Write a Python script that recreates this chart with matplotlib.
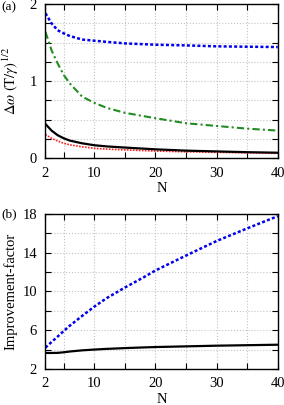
import numpy as np
import matplotlib
matplotlib.use('Agg')
import matplotlib.pyplot as plt
from matplotlib.ticker import MultipleLocator, FixedLocator

plt.rcParams['font.family'] = ['Liberation Serif', 'DejaVu Serif']
plt.rcParams['mathtext.fontset'] = 'stix'
plt.rcParams['font.size'] = 10.5

# panel (a)
N_a = [2, 3, 4, 5, 6, 8, 10, 12, 15, 20, 25, 30, 35, 40]
blue_a = [1.88, 1.75, 1.66, 1.62, 1.585, 1.54, 1.525, 1.51, 1.49, 1.473, 1.464, 1.452, 1.447, 1.443]
green_a = [1.64, 1.40, 1.23, 1.08, 0.97, 0.80, 0.72, 0.655, 0.59, 0.52, 0.455, 0.42, 0.385, 0.36]
black_a = [0.445, 0.36, 0.30, 0.26, 0.23, 0.195, 0.17, 0.155, 0.14, 0.117, 0.10, 0.09, 0.08, 0.073]
red_a = [0.31, 0.26, 0.225, 0.195, 0.175, 0.15, 0.13, 0.12, 0.11, 0.095, 0.085, 0.078, 0.071, 0.065]

# panel (b)
N_b = [2, 3, 4, 5, 6, 8, 10, 12, 15, 18, 20, 25, 30, 35, 40]
blue_b = [4.2, 4.78, 5.34, 5.92, 6.47, 7.47, 8.43, 9.3, 10.4, 11.43, 12.16, 13.7, 15.2, 16.5, 17.76]
black_b = [3.65, 3.65, 3.66, 3.72, 3.8, 3.92, 4.0, 4.07, 4.15, 4.22, 4.26, 4.33, 4.4, 4.45, 4.5]

fig = plt.figure(figsize=(2.84, 4.05), dpi=100)
ax1 = fig.add_axes([0.160, 0.609, 0.818, 0.381])
ax2 = fig.add_axes([0.160, 0.089, 0.818, 0.383])

grid_kw = dict(color='#c4c4c4', linestyle=':', linewidth=0.8)

ax1.plot(N_a, blue_a, color='#0000ee', lw=1.8, linestyle=(0, (1.2, 0.9)))
ax1.plot(N_a, green_a, color='#228b22', lw=1.5, linestyle=(0, (3.5, 1.5, 1, 1.5)))
ax1.plot(N_a, red_a, color='#ff2020', lw=1.2, linestyle=(0, (1, 0.8)))
ax1.plot(N_a, black_a, color='black', lw=1.6)
ax1.set_xlim(2, 40)
ax1.set_ylim(0, 2)
ax1.xaxis.set_major_locator(FixedLocator([2, 10, 20, 30, 40]))
ax1.xaxis.set_minor_locator(FixedLocator([5, 15, 25, 35]))
ax1.yaxis.set_major_locator(MultipleLocator(1))
ax1.yaxis.set_minor_locator(MultipleLocator(0.25))
ax1.set_xlabel('N', labelpad=2)
ax1.set_ylabel(r'$\Delta\omega\ (\mathrm{T}/\gamma)^{1/2}$')
ax1.yaxis.set_label_coords(-0.105, 0.5)

ax2.plot(N_b, blue_b, color='#0000ee', lw=1.8, linestyle=(0, (1.2, 0.9)))
ax2.plot(N_b, black_b, color='black', lw=1.6)
ax2.set_xlim(2, 40)
ax2.set_ylim(2, 18)
ax2.xaxis.set_major_locator(FixedLocator([2, 10, 20, 30, 40]))
ax2.xaxis.set_minor_locator(FixedLocator([5, 15, 25, 35]))
ax2.yaxis.set_major_locator(FixedLocator([2, 6, 10, 14, 18]))
ax2.yaxis.set_minor_locator(FixedLocator([4, 8, 12, 16]))
ax2.set_xlabel('N', labelpad=2)
ax2.set_ylabel('Improvement-factor')
ax2.yaxis.set_label_coords(-0.12, 0.5)

for ax in (ax1, ax2):
    ax.grid(True, which='both', **grid_kw)
    ax.set_axisbelow(True)
    ax.tick_params(which='both', direction='in', top=True, right=True, width=0.8, length=4)
    ax.tick_params(axis='x', which='major', pad=6)
    ax.tick_params(axis='y', which='major', pad=6)
    for s in ax.spines.values():
        s.set_linewidth(1.0)

fig.text(0.005, 0.982, '(a)', ha='left', va='center', fontsize=9.5)
fig.text(0.005, 0.470, '(b)', ha='left', va='center', fontsize=9.5)

fig.savefig('out.png', dpi=100)
